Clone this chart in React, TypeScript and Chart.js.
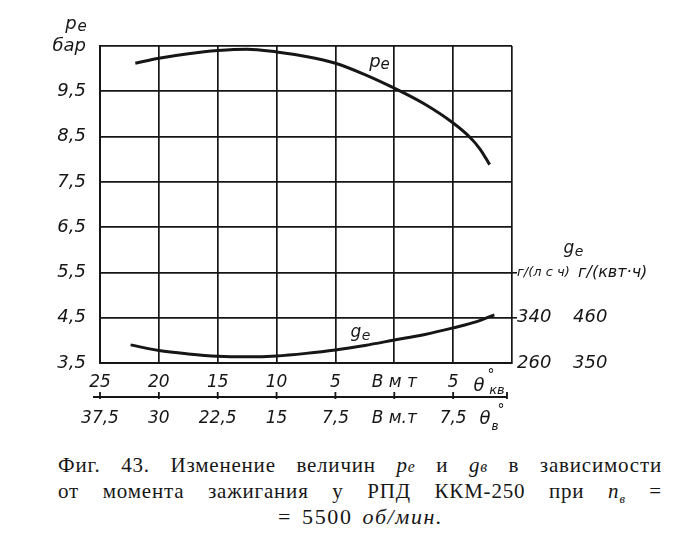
import React, { useEffect, useRef } from "react";
import { Chart, registerables } from "chart.js";

Chart.register(...registerables);

// Ignition advance, crank degrees before (+) / after (-) TDC
const peCrank = [22, 20, 17.5, 15, 12.5, 10, 7.5, 5, 2.5, 0, -2.5, -5, -6.4, -7.3, -8.1];
const peValues = [10.12, 10.23, 10.33, 10.4, 10.43, 10.37, 10.27, 10.12, 9.87, 9.57, 9.23, 8.8, 8.49, 8.22, 7.88];

const geCrank = [22.4, 20, 17.5, 15, 12.5, 10, 7.5, 5, 2.5, 0, -2.5, -5, -7, -8.5];
const geValues = [292, 282, 276, 272, 271, 272.5, 277, 283, 291, 300.5, 310, 322, 333, 345];

const xTopLabels: Record<string, string> = { "25": "25", "20": "20", "15": "15", "10": "10", "5": "5", "0": "В м т", "-5": "5", "-10": "" };
const xBottomLabels: Record<string, string> = { "37.5": "37,5", "30": "30", "22.5": "22,5", "15": "15", "7.5": "7,5", "0": "В м.т", "-7.5": "7,5", "-15": "" };
const peTickLabels: Record<string, string> = { "3.5": "3,5", "4.5": "4,5", "5.5": "5,5", "6.5": "6,5", "7.5": "7,5", "8.5": "8,5", "9.5": "9,5", "10.5": "бар" };
const geHpTicks: Record<string, string> = { "260": "260", "340": "340", "420": "г/(л с ч)" };
const geKwTicks: Record<string, string> = { "350": "350", "460": "460", "570": " г/(квт·ч)" };

const INK = "#161616";
const FAM = '"DejaVu Sans", sans-serif';
const key = (v: number) => String(Math.round(v * 10) / 10);

const annotate = {
  id: "annotate",
  afterDraw(chart: any) {
    const ctx = chart.ctx as CanvasRenderingContext2D;
    const xs = chart.scales.x;
    const x2 = chart.scales.x2;
    ctx.save();
    ctx.fillStyle = INK;
    ctx.strokeStyle = INK;
    // second (shaft-degree) axis line
    const ly = x2.top;
    ctx.lineWidth = 1.8;
    ctx.beginPath();
    ctx.moveTo(xs.left - 7, ly);
    ctx.lineTo(xs.right - 5, ly);
    x2.ticks.forEach((t: any, i: number) => {
      let px = x2.getPixelForValue(t.value);
      if (i === x2.ticks.length - 1) px = xs.right - 5;
      ctx.moveTo(px, ly - 5);
      ctx.lineTo(px, ly + 2);
    });
    ctx.stroke();

    const txt = (s: string, x: number, y: number, size: number) => {
      ctx.font = `italic ${size}px ${FAM}`;
      ctx.textAlign = "center";
      ctx.textBaseline = "middle";
      ctx.fillText(s, x, y);
    };
    // axis titles
    txt("p", 71, 24, 18);
    txt("e", 82, 27, 15);
    txt("g", 569, 249, 17);
    txt("e", 579, 252, 14);
    // curve labels
    txt("p", 375, 62, 18);
    txt("e", 385, 65, 15);
    txt("g", 356, 333, 17);
    txt("e", 366, 336, 14);
    // theta labels
    txt("θ", 479, 386, 18);
    txt("°", 491, 375, 14);
    txt("кв", 497, 391, 13);
    txt("θ", 485, 419, 18);
    txt("°", 501, 410, 14);
    txt("в", 495, 427, 12);
    ctx.restore();
  },
};

export default function App() {
  const ref = useRef<HTMLCanvasElement | null>(null);

  useEffect(() => {
    if (!ref.current) return;
    const tickFont = { family: FAM, style: "italic" as const, size: 17 };
    const chart = new Chart(ref.current, {
      type: "line",
      data: {
        datasets: [
          {
            data: peCrank.map((c, i) => ({ x: c, y: peValues[i] })),
            xAxisID: "x",
            yAxisID: "y",
            borderColor: INK,
            borderWidth: 3,
            pointRadius: 0,
            cubicInterpolationMode: "monotone",
            fill: false,
          },
          {
            data: geCrank.map((c, i) => ({ x: c, y: geValues[i] })),
            xAxisID: "x",
            yAxisID: "y2",
            borderColor: INK,
            borderWidth: 3,
            pointRadius: 0,
            cubicInterpolationMode: "monotone",
            fill: false,
          },
        ],
      },
      options: {
        animation: false,
        responsive: false,
        devicePixelRatio: 1,
        layout: { padding: { top: 46, left: 0, right: 0, bottom: 0 } },
        plugins: { legend: { display: false }, tooltip: { enabled: false } },
        scales: {
          x: {
            type: "linear",
            position: "bottom",
            reverse: true,
            min: -10,
            max: 25,
            grid: { color: INK, lineWidth: 1.7, drawTicks: false },
            border: { color: INK, width: 2 },
            ticks: {
              stepSize: 5,
              autoSkip: false,
              maxRotation: 0,
              padding: 9,
              color: INK,
              font: tickFont,
              callback: (v: any) => xTopLabels[key(Number(v))] ?? "",
            },
            afterFit: (s: any) => {
              s.height = 34;
            },
          },
          x2: {
            type: "linear",
            position: "bottom",
            reverse: true,
            min: -15,
            max: 37.5,
            grid: { display: false, drawTicks: false },
            border: { display: false },
            ticks: {
              stepSize: 7.5,
              autoSkip: false,
              maxRotation: 0,
              padding: 11,
              color: INK,
              font: tickFont,
              callback: (v: any) => xBottomLabels[key(Number(v))] ?? "",
            },
            afterFit: (s: any) => {
              s.height = 43;
            },
          },
          y: {
            type: "linear",
            position: "left",
            min: 3.5,
            max: 10.5,
            grid: { color: INK, lineWidth: 1.7, drawTicks: false },
            border: { color: INK, width: 2 },
            ticks: {
              stepSize: 1,
              padding: 14,
              color: INK,
              font: { family: FAM, style: "italic", size: 18 },
              callback: (v: any) => peTickLabels[key(Number(v))] ?? "",
            },
            afterFit: (s: any) => {
              s.width = 100;
            },
          },
          y2: {
            type: "linear",
            position: "right",
            min: 260,
            max: 820,
            grid: {
              display: true,
              drawOnChartArea: false,
              drawTicks: true,
              tickLength: 5,
              lineWidth: 1.6,
              color: (c: any) => {
                const v = c.tick ? c.tick.value : 0;
                return v === 340 || v === 420 ? INK : "rgba(0,0,0,0)";
              },
            },
            border: { display: false },
            ticks: {
              stepSize: 80,
              padding: 0,
              color: INK,
              font: (c: any) =>
                c.tick && c.tick.value === 420
                  ? { family: FAM, style: "italic", size: 13 }
                  : { family: FAM, style: "italic", size: 18 },
              callback: (v: any) => geHpTicks[key(Number(v))] ?? "",
            },
            afterFit: (s: any) => {
              s.width = 61;
            },
          },
          y3: {
            type: "linear",
            position: "right",
            min: 350,
            max: 1120,
            grid: { display: false, drawTicks: false },
            border: { display: false },
            ticks: {
              stepSize: 110,
              padding: 0,
              color: INK,
              font: (c: any) =>
                c.tick && c.tick.value === 570
                  ? { family: FAM, style: "italic", size: 16 }
                  : { family: FAM, style: "italic", size: 18 },
              callback: (v: any) => geKwTicks[key(Number(v))] ?? "",
            },
            afterFit: (s: any) => {
              s.width = 125;
            },
          },
        },
      },
      plugins: [annotate],
    } as any);
    return () => chart.destroy();
  }, []);

  const capLine: React.CSSProperties = {
    position: "absolute",
    left: 58,
    width: 604,
    height: 26,
    lineHeight: "26px",
    fontFamily: '"Liberation Serif", serif',
    fontSize: 21,
    letterSpacing: "0.8px",
    color: INK,
    textAlign: "justify",
    textAlignLast: "justify" as any,
    whiteSpace: "normal",
  };

  return (
    <div style={{ position: "absolute", left: 0, top: 0, width: 698, height: 536, background: "#fff", overflow: "hidden" }}>
      <canvas ref={ref} width={698} height={440} style={{ position: "absolute", left: 0, top: 0, width: 698, height: 440 }} />
      <div style={{ ...capLine, top: 452 }}>
        Фиг. 43. Изменение величин <i>p<span style={{ fontSize: "0.75em" }}>e</span></i> и <i>g<span style={{ fontSize: "0.75em" }}>в</span></i> в зависимости
      </div>
      <div style={{ ...capLine, top: 478 }}>
        от момента зажигания у РПД ККМ-250 при <i>n<sub style={{ fontSize: "0.6em" }}>в</sub></i> =
      </div>
      <div
        style={{
          ...capLine,
          top: 504,
          left: 278,
          width: 200,
          fontSize: 22,
          letterSpacing: "1.6px",
          wordSpacing: "3px",
          textAlign: "left",
          textAlignLast: "auto" as any,
          whiteSpace: "nowrap",
        }}
      >
        = 5500 <i>об/мин.</i>
      </div>
    </div>
  );
}
